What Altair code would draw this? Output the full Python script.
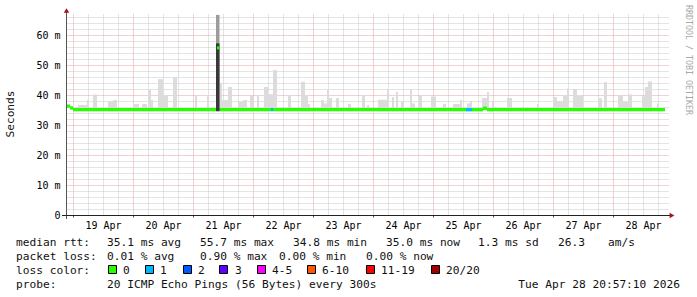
import altair as alt
import pandas as pd

# ---------------- data (times = hours after 19 Apr 2026 00:00, values in ms) ----------------
smoke_start = [2.0, 5.6, 8.0, 14.0, 16.0, 24.0, 27.6, 30.0, 31.2, 34.0, 36.0, 40.0, 48.8, 53.6,
               58.8, 59.6, 62.0, 66.0, 68.0, 70.8, 73.6, 76.4, 78.0, 80.0, 86.0, 91.2, 92.8, 94.0,
               99.2, 100.4, 101.6, 102.4, 105.2, 110.0, 115.6, 117.6, 122.0, 125.6, 127.6, 129.2,
               131.2, 134.8, 135.6, 138.4, 143.2, 148.0, 152.0, 154.8, 157.6, 158.8, 163.6, 165.6,
               167.6, 173.6, 181.6, 185.6, 192.0, 193.6, 196.0, 197.6, 200.0, 201.6, 210.0, 212.4,
               218.0, 220.0, 222.0, 227.6, 228.8, 230.0, 233.6]
smoke_end = [5.6, 6.4, 9.6, 16.0, 17.6, 26.4, 29.6, 31.2, 32.0, 36.0, 38.0, 41.6, 49.6, 54.4,
             59.6, 62.0, 63.6, 68.0, 69.6, 72.0, 74.4, 78.0, 80.0, 81.6, 87.2, 92.8, 94.0, 94.8,
             100.4, 101.6, 102.4, 103.6, 106.4, 111.2, 116.8, 118.4, 125.6, 126.4, 128.4, 130.0,
             132.4, 135.6, 136.8, 139.6, 145.2, 149.2, 154.8, 155.6, 158.8, 159.6, 165.6, 166.4,
             168.0, 175.6, 182.0, 186.0, 193.6, 196.0, 197.6, 198.4, 201.6, 204.0, 211.6, 213.6,
             220.0, 222.0, 223.6, 228.8, 230.0, 231.6, 234.4]
smoke_top = [36.7, 38.3, 40.2, 37.8, 38.3, 37.0, 37.0, 41.7, 38.3, 45.3, 40.0, 45.8, 40.0, 40.0,
             44.0, 38.3, 42.7, 37.8, 38.3, 40.0, 40.0, 42.7, 40.3, 48.3, 39.8, 44.4, 40.0, 37.0,
             38.3, 37.2, 41.7, 39.0, 39.0, 37.0, 40.0, 36.7, 38.4, 42.0, 39.3, 41.0,
             37.7, 42.0, 37.2, 40.0, 39.5, 37.0, 37.0, 38.3, 37.2, 38.0, 39.0, 41.0,
             38.0, 39.0, 36.0, 37.0, 39.3, 38.0, 40.0, 42.2, 42.0, 40.0, 38.9, 44.3,
             40.0, 37.8, 40.2, 39.6, 42.7, 44.5, 37.2]
smoke_min = 34.6

median_start = [-2.4, -1.2, 0.0, 58.4, 79.2, 80.0, 157.2, 159.6, 164.0, 165.6]
median_end = [-1.2, 0.0, 57.2, 79.2, 80.0, 157.2, 159.6, 164.0, 165.6, 236.8]
median_rtt = [36.3, 35.7, 35.1, 35.1, 35.1, 35.1, 35.1, 35.1, 35.6, 35.1]
median_loss = ["0", "0", "0", "0", "1", "0", "1", "0", "0", "0"]

spike_start, spike_end = 57.2, 58.6
spike_max, spike_upper, spike_median = 66.7, 57.2, 55.7

loss_labels = ["0", "1", "2", "3", "4-5", "6-10", "11-19", "20/20"]
loss_colors = ["#26ff00", "#00b8ff", "#0059ff", "#5e00ff", "#ff00ff", "#ff5500", "#ff0000", "#a10000"]
color_of = dict(zip(loss_labels, loss_colors))

BASE = pd.Timestamp("2026-04-19 00:00")


def T(hours):
    return [BASE + pd.Timedelta(hours=h) for h in hours]


smoke_df = pd.DataFrame({"t0": T(smoke_start), "t1": T(smoke_end),
                         "lo": [smoke_min] * len(smoke_top), "hi": smoke_top})
med_df = pd.DataFrame({"t0": T(median_start), "t1": T(median_end),
                       "lo": [m - 0.55 for m in median_rtt], "hi": [m + 0.55 for m in median_rtt],
                       "c": [color_of[l] for l in median_loss]})
spike_df = pd.DataFrame({"t0": T([spike_start, spike_start, spike_start + 0.4]),
                         "t1": T([spike_end, spike_end, spike_end]),
                         "lo": [smoke_min, smoke_min, spike_median - 0.5],
                         "hi": [spike_max, spike_upper, spike_median + 0.5],
                         "c": ["#9c9c9c", "#383838", loss_colors[0]]})
one = pd.DataFrame({"k": [0]})

# ---------------- scales / axes ----------------
MONO = "DejaVu Sans Mono"
grid_vals_x = [alt.DateTime(year=2026, month=4, date=19 + h // 24, hours=h % 24)
               for h in range(0, 235, 6)]
xscale = alt.Scale(domain=[alt.DateTime(year=2026, month=4, date=18, hours=21, minutes=36),
                           alt.DateTime(year=2026, month=4, date=28, hours=22, minutes=24)])
yscale = alt.Scale(domain=[0, 67], nice=False, zero=False)

RED = "#eaa0a0"
GRAY = "#c8c8c8"
xaxis = alt.Axis(values=grid_vals_x, title=None, domain=False,
                 labelExpr="hours(datum.value) === 12 ? timeFormat(datum.value, '%d %b') : ''",
                 labelFont=MONO, labelFontSize=10, labelColor="#000", labelPadding=3,
                 labelOverlap=False, labelFlush=False, labelBound=False,
                 ticks=True, tickSize=2, tickColor="#555",
                 tickOpacity={"condition": {"test": "hours(datum.value) === 0", "value": 1}, "value": 0},
                 grid=True, gridWidth=1,
                 gridColor={"condition": {"test": "hours(datum.value) === 0", "value": RED}, "value": GRAY},
                 gridDash=[1, 1])
NB = "\u00a0"
yaxis = alt.Axis(values=list(range(0, 67, 2)), title=None, domain=False, ticks=False,
                 labelExpr=f"datum.value % 10 !== 0 ? '' : (datum.value === 0 ? '0{NB}{NB}' : datum.value + '{NB}m')",
                 labelFont=MONO, labelFontSize=10, labelColor="#000", labelPadding=7,
                 labelOverlap=False, labelBound=False,
                 grid=True, gridWidth=1,
                 gridColor={"condition": {"test": "datum.value % 10 === 0", "value": RED}, "value": GRAY},
                 gridDash=[1, 1])

X = alt.X("t0:T", scale=xscale, axis=xaxis)
X2 = alt.X2("t1:T")
Y = alt.Y("lo:Q", scale=yscale, axis=yaxis)
Y2 = alt.Y2("hi:Q")

smoke = alt.Chart(smoke_df).mark_rect(color="#dcdcdc").encode(x=X, x2=X2, y=Y, y2=Y2)
median = alt.Chart(med_df).mark_rect().encode(x=X, x2=X2, y=Y, y2=Y2,
                                               color=alt.Color("c:N", scale=None))
spike = alt.Chart(spike_df).mark_rect().encode(x=X, x2=X2, y=Y, y2=Y2,
                                               color=alt.Color("c:N", scale=None))

OX, OY = 67, 14  # plot origin inside the 697x297 page

yline = alt.Chart(one).mark_rule(color="#555555", strokeWidth=1).encode(
    x=alt.value(-0.5), y=alt.value(-4), y2=alt.value(205))
xline = alt.Chart(one).mark_rule(color="#222222", strokeWidth=1).encode(
    x=alt.value(-5), x2=alt.value(603), y=alt.value(201.5))
arrow_up = alt.Chart(one).mark_point(shape="triangle-up", filled=True, size=30, opacity=1,
                                     color="#a31515").encode(x=alt.value(-0.5), y=alt.value(-3.5))
arrow_rt = alt.Chart(one).mark_point(shape="triangle-right", filled=True, size=30, opacity=1,
                                     color="#a31515").encode(x=alt.value(605), y=alt.value(201.5))

FS = 11.2


def txt(s, ax, ay, align="left", size=FS, color="#111111", angle=0, baseline="alphabetic"):
    kw = dict(text=s, align=align, baseline=baseline, font=MONO, fontSize=size, color=color)
    if angle:
        kw["angle"] = angle
    return alt.Chart(one).mark_text(**kw).encode(x=alt.value(ax - OX), y=alt.value(ay - OY))


L1, L2, L3, L4 = 245.5, 259.5, 273.5, 287.5
texts = [
    txt("median rtt:", 16, L1), txt("35.1 ms avg", 107, L1), txt("55.7 ms max", 200, L1),
    txt("34.8 ms min", 293, L1), txt("35.0 ms now", 386, L1), txt("1.3 ms sd", 478, L1),
    txt("26.3", 558, L1), txt("am/s", 608, L1),
    txt("packet loss:", 16, L2), txt("0.01 % avg", 107, L2), txt("0.90 % max", 200, L2),
    txt("0.00 % min", 279, L2), txt("0.00 % now", 366, L2),
    txt("loss color:", 16, L3),
    txt("probe:", 16, L4), txt("20 ICMP Echo Pings (56 Bytes) every 300s", 107, L4),
    txt("Tue Apr 28 20:57:10 2026", 680, L4, align="right"),
    txt("Seconds", 11, 114, align="center", angle=270, baseline="middle"),
    txt("RRDTOOL / TOBI OETIKER", 688, 60, align="center", angle=90, baseline="middle",
        size=8.3, color="#a8a8a8"),
]
sq_x = [108, 145, 183, 219, 257, 307, 366, 431]
lab_x = [123, 160, 198, 235, 272, 322, 381, 446]
squares = []
for lab, col, sx, lx in zip(loss_labels, loss_colors, sq_x, lab_x):
    squares.append(alt.Chart(one).mark_rect(fill=col, stroke="#000000", strokeWidth=1).encode(
        x=alt.value(sx + 0.5 - OX), x2=alt.value(sx + 8.5 - OX),
        y=alt.value(265.5 - OY), y2=alt.value(273.5 - OY)))
    texts.append(txt(lab, lx, L3))

chart = alt.layer(smoke, median, spike, yline, xline, arrow_up, arrow_rt, *squares, *texts).properties(
    width=602, height=201,
    autosize=alt.AutoSizeParams(type="none"),
    padding={"left": OX, "top": OY, "right": 697 - OX - 602, "bottom": 297 - OY - 201},
    background="#ffffff",
).configure_view(strokeWidth=0)

chart.save("out.html", embed_options={"renderer": "svg", "actions": False})
